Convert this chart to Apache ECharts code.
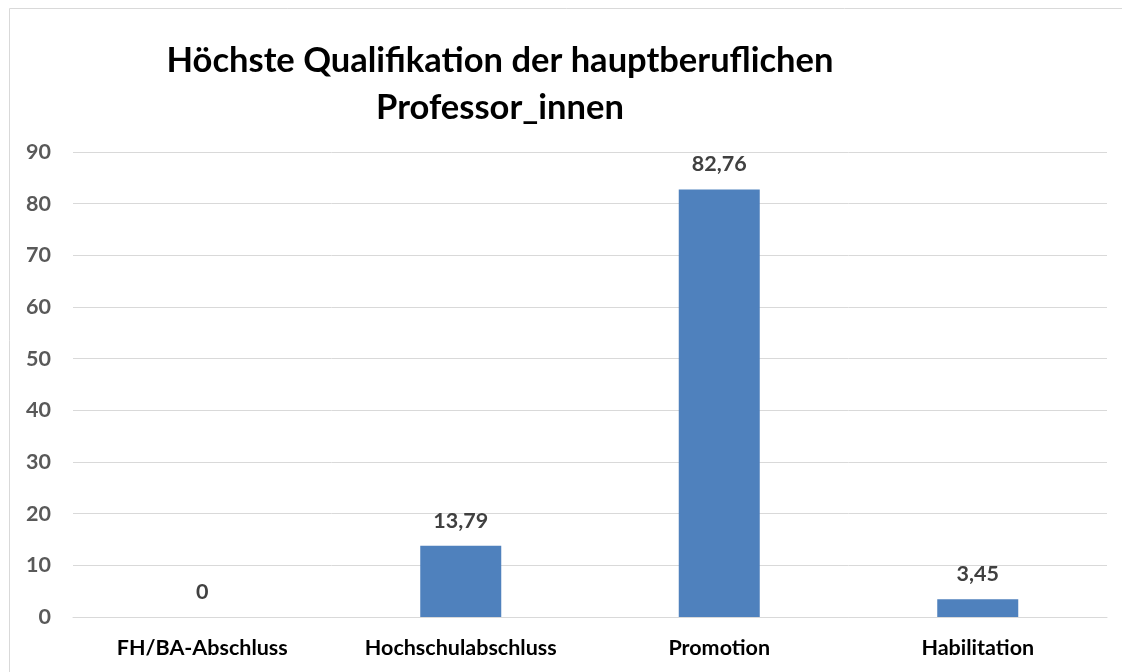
<!DOCTYPE html>
<html>
<head>
<meta charset="utf-8">
<script src="https://cdn.jsdelivr.net/npm/echarts@6/dist/echarts.min.js"></script>
<style>
  html, body { margin: 0; padding: 0; background: #fff; }
  #chart { width: 1122px; height: 672px; }
</style>
</head>
<body>
<div id="chart"></div>
<script>
    'use strict';

    var titleLines = ['Höchste Qualifikation der hauptberuflichen', 'Professor_innen'];
    var categories = ['FH/BA-Abschluss', 'Hochschulabschluss', 'Promotion', 'Habilitation'];
    var values = [0, 13.79, 82.76, 3.45];

    var fontName = 'Lato, "Open Sans", sans-serif';

    var myChart = echarts.init(document.getElementById('chart'));

    var option = {
        backgroundColor: '#fff',
        animation: false,
        title: {
            text: titleLines.join('\n'),
            left: 495,
            top: 32,
            textAlign: 'center',
            textStyle: {
                fontFamily: fontName,
                fontSize: 34.5,
                fontWeight: 'bold',
                color: '#000',
                lineHeight: 47
            }
        },
        graphic: [
            {
                type: 'rect',
                shape: { x: 9.5, y: 8.5, width: 1300, height: 800 },
                style: { fill: 'none', stroke: '#d9d9d9', lineWidth: 1 },
                silent: true
            }
        ],
        grid: {
            left: 73,
            right: 15,
            top: 152,
            bottom: 55,
            containLabel: false
        },
        xAxis: {
            type: 'category',
            data: categories,
            axisLine: { show: true, lineStyle: { color: '#d9d9d9', width: 1 } },
            axisTick: { show: false },
            axisLabel: {
                margin: 20,
                fontFamily: fontName,
                fontSize: 21.5,
                fontWeight: 'bold',
                color: '#000'
            }
        },
        yAxis: {
            type: 'value',
            min: 0,
            max: 90,
            interval: 10,
            axisLine: { show: false },
            axisTick: { show: false },
            splitLine: { lineStyle: { color: '#d9d9d9', width: 1 } },
            axisLabel: {
                margin: 22,
                fontFamily: fontName,
                fontSize: 21.5,
                fontWeight: 'bold',
                color: '#595959'
            }
        },
        series: [
            {
                name: 'Qualifikation',
                type: 'bar',
                data: values,
                barWidth: 81,
                itemStyle: { color: '#4f81bd' },
                label: {
                    show: true,
                    position: 'top',
                    distance: 14,
                    fontFamily: fontName,
                    fontSize: 21.5,
                    fontWeight: 'bold',
                    color: '#404040',
                    formatter: function (p) {
                        return String(p.value).replace('.', ',');
                    }
                }
            }
        ]
    };

    myChart.setOption(option);
</script>
</body>
</html>
